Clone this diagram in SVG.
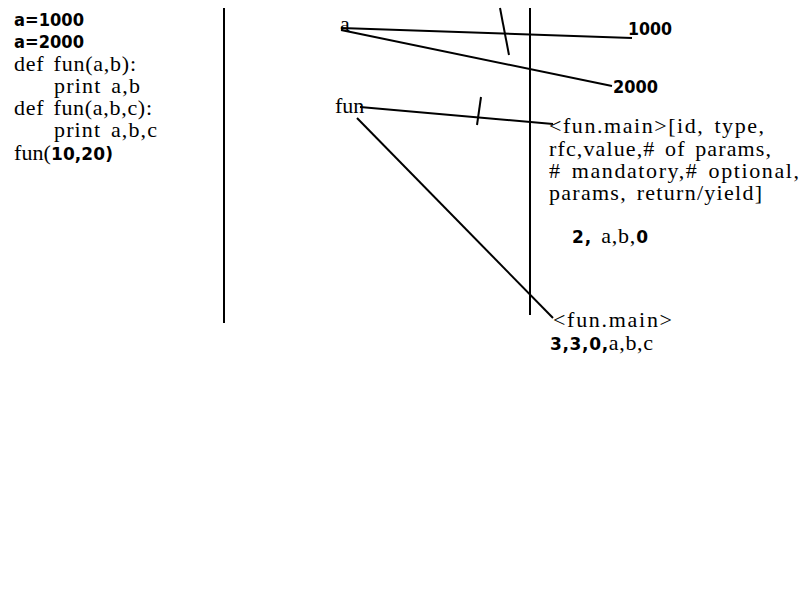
<svg xmlns="http://www.w3.org/2000/svg" width="800" height="600" viewBox="0 0 800 600">
<style>
.s{font-family:"Liberation Serif","Times New Roman",serif;font-size:22px;fill:#000;word-spacing:3px}
.d{font-family:"DejaVu Sans",sans-serif;font-weight:bold;font-size:17px;word-spacing:0}
.ln{stroke:#000;stroke-width:2;fill:none}
</style>
<rect width="800" height="600" fill="#fff"/>
<g id="code">
<text class="d" x="14" y="26" textLength="70" lengthAdjust="spacingAndGlyphs">a=1000</text>
<text class="d" x="14" y="48" textLength="70" lengthAdjust="spacingAndGlyphs">a=2000</text>
<text class="s" x="14" y="71" textLength="122" lengthAdjust="spacing">def fun(a,b):</text>
<text class="s" x="54" y="93" textLength="86" lengthAdjust="spacing">print a,b</text>
<text class="s" x="14" y="115" textLength="138" lengthAdjust="spacing">def fun(a,b,c):</text>
<text class="s" x="54" y="137" textLength="103" lengthAdjust="spacing">print a,b,c</text>
<text class="s" x="14" y="160" textLength="99" lengthAdjust="spacing">fun(<tspan class="d">10,20)</tspan></text>
</g>
<g id="dividers">
<line class="ln" x1="224" y1="8" x2="224" y2="323"/>
<line class="ln" x1="530" y1="8" x2="530" y2="315"/>
</g>
<g id="name-a"><text class="s" x="340" y="31">a</text></g>
<g id="name-fun"><text class="s" x="335" y="113">fun</text></g>
<g id="obj-1000"><text class="d" x="628" y="35" textLength="44" lengthAdjust="spacingAndGlyphs">1000</text></g>
<g id="obj-2000"><text class="d" x="613" y="93" textLength="45" lengthAdjust="spacingAndGlyphs">2000</text></g>
<g id="obj-fun1">
<text class="s" x="549" y="133" textLength="215" lengthAdjust="spacing">&lt;fun.main&gt;[id, type,</text>
<text class="s" x="549" y="156" textLength="222" lengthAdjust="spacing">rfc,value,# of params,</text>
<text class="s" x="549" y="178" textLength="250" lengthAdjust="spacing"># mandatory,# optional,</text>
<text class="s" x="549" y="200" textLength="213" lengthAdjust="spacing">params, return/yield]</text>
<text class="s" x="572" y="243" textLength="76" lengthAdjust="spacing"><tspan class="d">2,</tspan> a,b,<tspan class="d">0</tspan></text>
</g>
<g id="obj-fun2">
<text class="s" x="553" y="327" textLength="119" lengthAdjust="spacing">&lt;fun.main&gt;</text>
<text class="s" x="550" y="350" textLength="103" lengthAdjust="spacing"><tspan class="d">3,3,0,</tspan>a,b,c</text>
</g>
<g id="connectors">
<line class="ln" x1="341" y1="28" x2="632" y2="38"/>
<line class="ln" x1="341" y1="30" x2="612" y2="86"/>
<line class="ln" x1="360" y1="107" x2="553" y2="124"/>
<line class="ln" x1="357" y1="118" x2="553" y2="318"/>
<line class="ln" x1="500" y1="8" x2="509" y2="55"/>
<line class="ln" x1="481" y1="97" x2="477" y2="125"/>
</g>
</svg>
